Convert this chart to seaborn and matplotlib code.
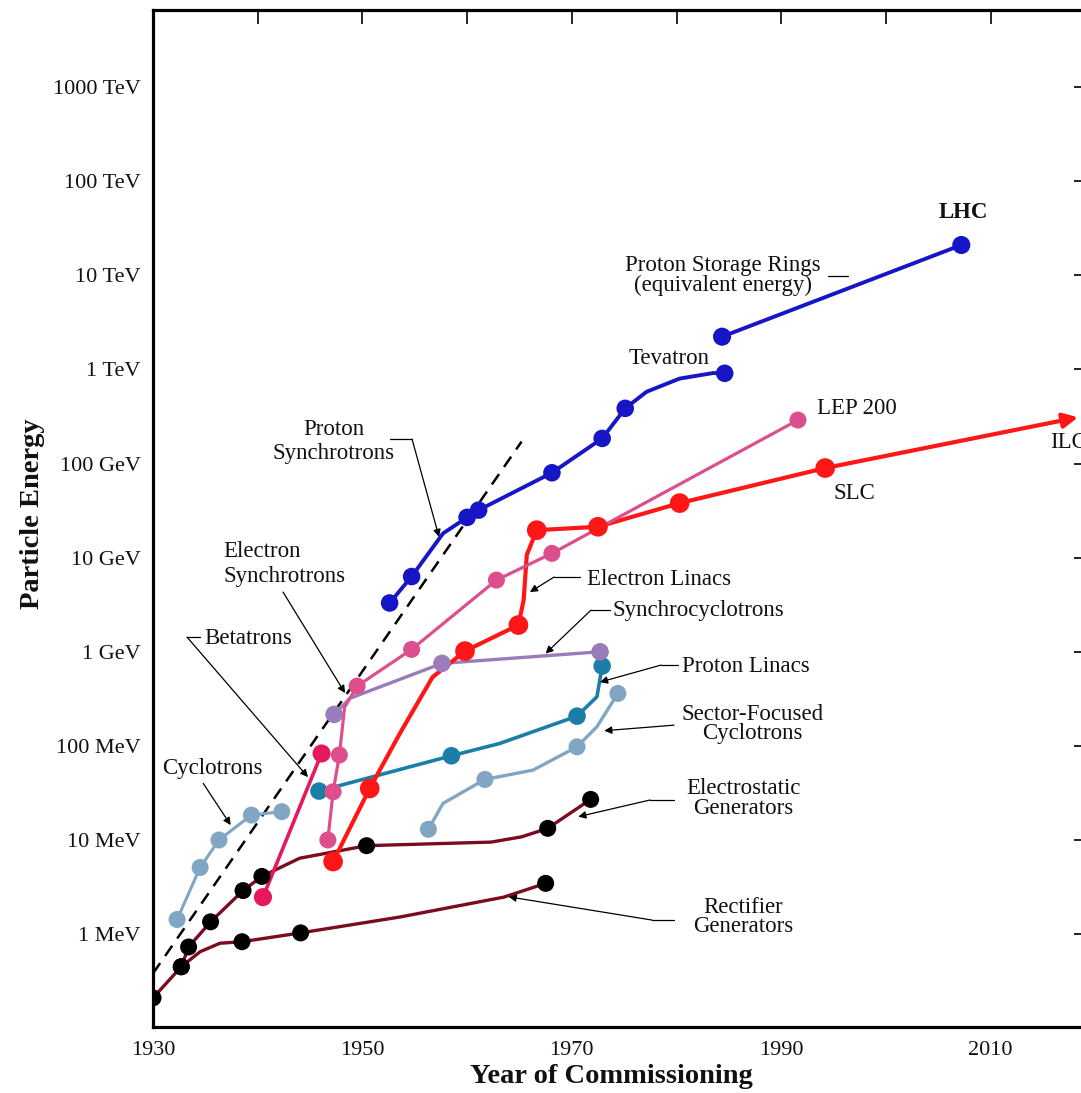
import numpy as np
import pandas as pd
import matplotlib
matplotlib.use('Agg')
from matplotlib import pyplot as plt
import seaborn as sns

# ---- data (year of commissioning, energy in MeV) ----
rect_years = [1930.0, 1932.7, 1938.5, 1944.1, 1967.5]
rect_mev = [0.21, 0.45, 0.83, 1.03, 3.46]
rect_bend_years = [1934.5, 1936.4, 1953.6, 1963.5]
rect_bend_mev = [0.65, 0.80, 1.52, 2.47]

estat_years = [1932.7, 1933.4, 1935.5, 1938.6, 1940.4, 1950.4, 1967.7, 1971.8]
estat_mev = [0.45, 0.73, 1.35, 2.9, 4.1, 8.7, 13.3, 27.0]
estat_bend_years = [1944.0, 1962.3, 1965.2]
estat_bend_mev = [6.4, 9.5, 10.8]

cyc_years = [1932.3, 1934.5, 1936.3, 1939.4, 1942.3]
cyc_mev = [1.43, 5.1, 10.0, 18.4, 20.0]

beta_years = [1940.5, 1946.1]
beta_mev = [2.47, 83.0]

esync_years = [1946.7, 1947.2, 1947.8, 1949.5, 1954.7, 1962.8, 1968.1, 1991.6]
esync_mev = [10.0, 32.5, 80.0, 432, 1060, 5780, 11100, 2.9e5]
esync_bend_years = [1948.3]
esync_bend_mev = [258]

scyc_years = [1947.3, 1957.6, 1972.7]
scyc_mev = [216, 753, 1000]
scyc_bend_years = [1948.8]
scyc_bend_mev = [320]

plin_years = [1945.85, 1958.5, 1970.5, 1972.9]
plin_mev = [33.1, 78.5, 207, 705]
plin_bend_years = [1963.1, 1972.4]
plin_bend_mev = [106, 333]

sfc_years = [1956.3, 1961.7, 1970.5, 1974.4]
sfc_mev = [13.0, 44.0, 97.8, 361]
sfc_bend_years = [1957.7, 1966.3, 1972.4]
sfc_bend_mev = [24.5, 55.3, 160]

elin_years = [1947.2, 1950.7, 1959.8, 1964.9, 1966.65, 1972.5, 1980.3, 1994.2]
elin_mev = [5.9, 35.3, 1017, 1923, 19600, 21300, 38000, 89600]
elin_bend_years = [1953.6, 1956.7, 1965.4, 1965.7]
elin_bend_mev = [137, 538, 3540, 10700]
ilc_year, ilc_mev = 2018.35, 3.1e5

psync_years = [1952.6, 1954.7, 1960.0, 1961.1, 1968.1, 1972.9, 1975.1, 1984.6]
psync_mev = [3300, 6300, 26800, 32000, 79800, 1.85e5, 3.86e5, 9.1e5]
psync_bend_years = [1957.7, 1977.15, 1980.3, 1983.5]
psync_bend_mev = [18100, 5.8e5, 8.0e5, 9.16e5]

ring_years = [1984.35, 2007.2]
ring_mev = [2.23e6, 2.1e7]

trend_years = [1930.0, 1965.2]
trend_mev = [0.382, 1.71e5]

ytick_mev = [1, 10, 100, 1e3, 1e4, 1e5, 1e6, 1e7, 1e8, 1e9]
ytick_labels = ['1 MeV', '10 MeV', '100 MeV', '1 GeV', '10 GeV', '100 GeV',
                '1 TeV', '10 TeV', '100 TeV', '1000 TeV']
xtick_years = list(range(1930, 2020, 10))

BLUE = '#1616c6'
RED = '#ff1616'
PINK = '#dc4f8c'
CRIMSON = '#e6185e'
PURPLE = '#9a7cba'
TEAL = '#1b7ea6'
STEEL = '#80a6c3'
MAROON = '#7b0b1e'

sns.set_theme(style='white')
plt.rcParams['font.family'] = ['Liberation Serif', 'DejaVu Serif']

fig = plt.figure(figsize=(10.81, 10.93), dpi=100)
ax = fig.add_axes([153 / 1081, 1 - 1027 / 1093, (1088 - 153) / 1081, (1027 - 10) / 1093])
ax.set_yscale('log')


def draw(years, mev, color, lw, dot_color, size, bend_years=None, bend_mev=None):
    dots = pd.DataFrame({'year': years, 'mev': mev})
    path = dots
    if bend_years is not None:
        path = pd.concat([dots, pd.DataFrame({'year': bend_years, 'mev': bend_mev})])
    sns.lineplot(data=path, x='year', y='mev', color=color, lw=lw, ax=ax,
                 estimator=None, sort=True, zorder=2)
    sns.scatterplot(data=dots, x='year', y='mev', color=dot_color, s=size,
                    edgecolor='none', linewidth=0, ax=ax, zorder=3)


# dashed trend line
sns.lineplot(x=trend_years, y=trend_mev, color='black', lw=1.8, ax=ax, zorder=1,
             dashes=False, linestyle=(0, (5, 3.5)))

draw(rect_years, rect_mev, MAROON, 2.4, 'black', 150, rect_bend_years, rect_bend_mev)
draw(estat_years, estat_mev, MAROON, 2.4, 'black', 150, estat_bend_years, estat_bend_mev)
draw(cyc_years, cyc_mev, STEEL, 2.2, STEEL, 150)
draw(sfc_years, sfc_mev, STEEL, 2.4, STEEL, 150, sfc_bend_years, sfc_bend_mev)
draw(plin_years, plin_mev, TEAL, 2.6, TEAL, 160, plin_bend_years, plin_bend_mev)
draw(scyc_years, scyc_mev, PURPLE, 2.4, PURPLE, 160, scyc_bend_years, scyc_bend_mev)
draw(elin_years, elin_mev, RED, 3.0, RED, 200, elin_bend_years, elin_bend_mev)
draw(esync_years, esync_mev, PINK, 2.3, PINK, 150, esync_bend_years, esync_bend_mev)
draw(beta_years, beta_mev, CRIMSON, 2.6, CRIMSON, 170)
draw(psync_years, psync_mev, BLUE, 2.8, BLUE, 160, psync_bend_years, psync_bend_mev)
draw(ring_years, ring_mev, BLUE, 2.8, BLUE, 170)

# ILC extrapolation arrow
ax.annotate('', xy=(ilc_year, ilc_mev), xytext=(elin_years[-1], elin_mev[-1]),
            arrowprops=dict(arrowstyle='-|>', color=RED, lw=3.0, mutation_scale=22,
                            shrinkA=0, shrinkB=0), zorder=2)

# ---- text labels ----
lab = dict(fontsize=16.5, color='#111111')
ax.text(2007.36, 4.7e7, 'LHC', ha='center', va='center', fontweight='bold', **lab)
ax.text(1984.44, 9.95e6, 'Proton Storage Rings\n(equivalent energy)', ha='center',
        va='center', linespacing=0.9, **lab)
ax.text(1979.28, 1.32e6, 'Tevatron', ha='center', va='center', **lab)
ax.text(1993.42, 3.8e5, 'LEP 200', ha='left', va='center', **lab)
ax.text(1995.04, 4.86e4, 'SLC', ha='left', va='center', **lab)
ax.text(2015.67, 1.69e5, 'ILC', ha='left', va='center', clip_on=False, **lab)
ax.text(1947.29, 1.73e5, 'Proton\nSynchrotrons', ha='center', va='center',
        linespacing=1.2, **lab)
ax.text(1936.69, 8.55e3, 'Electron\nSynchrotrons', ha='left', va='center',
        linespacing=1.2, **lab)
ax.text(1934.87, 1387, 'Betatrons', ha='left', va='center', **lab)
ax.text(1935.68, 57.7, 'Cyclotrons', ha='center', va='center', **lab)
ax.text(1971.45, 5.93e3, 'Electron Linacs', ha='left', va='center', **lab)
ax.text(1973.84, 2.77e3, 'Synchrocyclotrons', ha='left', va='center', **lab)
ax.text(1980.52, 705, 'Proton Linacs', ha='left', va='center', **lab)
ax.text(1987.27, 170.6, 'Sector-Focused\nCyclotrons', ha='center', va='center',
        linespacing=0.9, **lab)
ax.text(1986.35, 27.7, 'Electrostatic\nGenerators', ha='center', va='center',
        linespacing=0.9, **lab)
ax.text(1986.35, 1.53, 'Rectifier\nGenerators', ha='center', va='center',
        linespacing=0.9, **lab)


def leader(pts, arrow=True):
    xs = [p[0] for p in pts]
    ys = [p[1] for p in pts]
    if not arrow:
        ax.plot(xs, ys, color='black', lw=0.9, zorder=4)
        return
    if len(pts) > 2:
        ax.plot(xs[:-1], ys[:-1], color='black', lw=0.9, zorder=4)
    ax.annotate('', xy=pts[-1], xytext=pts[-2],
                arrowprops=dict(arrowstyle='-|>', color='black', lw=0.9,
                                mutation_scale=11, shrinkA=0, shrinkB=0), zorder=4)


leader([(1952.64, 1.82e5), (1954.74, 1.82e5), (1957.32, 1.66e4)])
leader([(1942.42, 4.31e3), (1948.34, 364)])
leader([(1934.49, 1432), (1933.25, 1432), (1944.8, 46.6)])
leader([(1934.8, 39.9), (1937.42, 14.4)])
leader([(1970.78, 6.22e3), (1968.3, 6.22e3), (1966.0, 4.31e3)])
leader([(1973.65, 2.77e3), (1971.83, 2.77e3), (1967.49, 957)])
leader([(1980.14, 722), (1978.52, 722), (1972.69, 476)])
leader([(1979.76, 166), (1973.1, 145)])
leader([(1979.76, 26.6), (1977.47, 26.6), (1970.62, 17.7)])
leader([(1979.76, 1.41), (1977.66, 1.41), (1963.97, 2.49)])
leader([(1994.47, 9.84e6), (1996.38, 9.84e6)], arrow=False)

# ---- axes ----
ax.set_xlim(1930, 2019.3)
ax.set_ylim(0.103, 6.6e9)
ax.set_yticks(ytick_mev)
ax.set_yticklabels(ytick_labels)
ax.yaxis.set_minor_locator(matplotlib.ticker.NullLocator())
ax.set_xticks(xtick_years)
ax.set_xticklabels([str(y) if (y - 1930) % 20 == 0 else '' for y in xtick_years])
ax.tick_params(which='both', direction='in', length=10, width=1.2, color='black',
               top=True, right=True, labelsize=16, labelcolor='#111111')
ax.tick_params(axis='x', pad=10)
ax.tick_params(axis='y', pad=9)
for s in ax.spines.values():
    s.set_linewidth(2.3)
    s.set_color('black')

ax.set_xlabel('Year of Commissioning', fontsize=20.5, fontweight='bold', color='#111111')
ax.set_ylabel('Particle Energy', fontsize=20.5, fontweight='bold', color='#111111')
ax.xaxis.set_label_coords(0.49, -0.049)
ax.xaxis.label.set_va('center')
ax.yaxis.set_label_coords(-0.129, 0.505)
ax.yaxis.label.set_va('center')

fig.savefig('out.png', dpi=100, facecolor='white')
